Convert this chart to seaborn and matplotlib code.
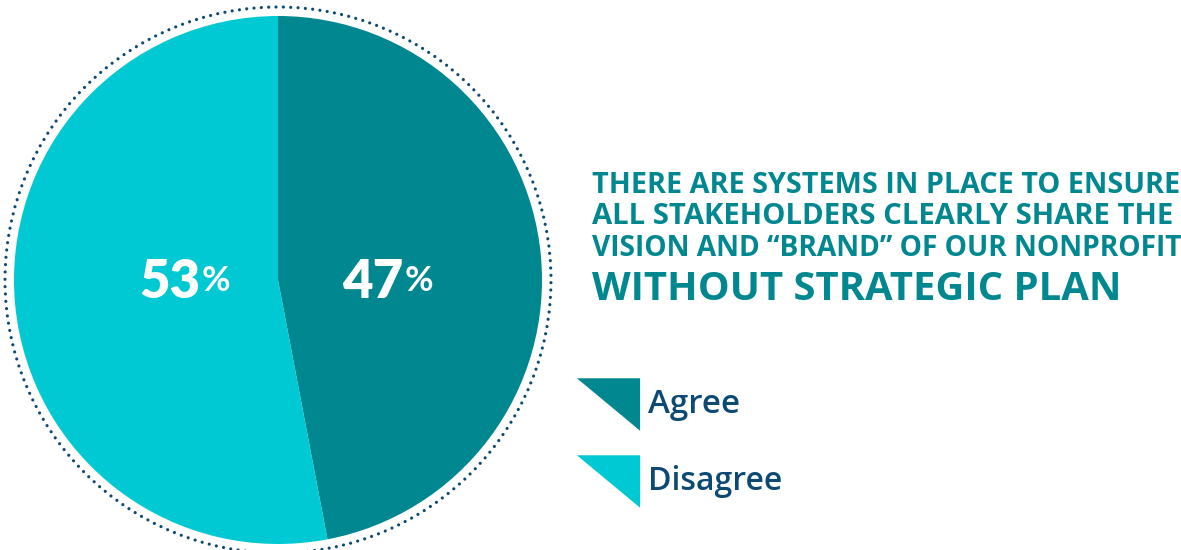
import matplotlib
matplotlib.use("Agg")
import matplotlib.pyplot as plt
from matplotlib.patches import Circle
import seaborn as sns

# ---- data ----
categories = ["Agree", "Disagree"]
values = [47, 53]
colors = ["#00878f", "#00c9d3"]
title_lines = ["THERE ARE SYSTEMS IN PLACE TO ENSURE",
               "ALL STAKEHOLDERS CLEARLY SHARE THE",
               "VISION AND \u201cBRAND\u201d OF OUR NONPROFIT"]
subtitle = "WITHOUT STRATEGIC PLAN"

sns.set_theme(style="white")
plt.rcParams['font.family'] = ['Open Sans', 'DejaVu Sans']

W, H = 1181, 550
fig = plt.figure(figsize=(W / 100, H / 100), dpi=100)
ax = fig.add_axes([0, 0, 1, 1])
ax.set_xlim(0, W)
ax.set_ylim(0, H)
renderer = fig.canvas.get_renderer()


def fit_text(x, y, s, width, size, **kw):
    t = ax.text(x, y, s, fontsize=size, **kw)
    w = t.get_window_extent(renderer=renderer).width
    t.set_fontsize(size * width / w)
    return t


cx, cy, r = 278, H - 280, 264
wedges, _ = ax.pie(values, colors=colors, startangle=90, counterclock=False,
                   center=(cx, cy), radius=r, frame=True,
                   wedgeprops=dict(linewidth=0))

ring = Circle((cx, cy), 273, fill=False, edgecolor="#0d4a73", linewidth=2.3,
              linestyle=(0, (0.01, 2.29)))
ring.set_capstyle("round")
ax.add_patch(ring)

# percent labels
label_pos = {"Agree": (403, H - 298), "Disagree": (200, H - 298)}
for cat, v in zip(categories, values):
    x, y = label_pos[cat]
    ax.text(x, y, f"{v}", color="white", fontsize=38, fontweight="heavy",
            ha="right", va="baseline", family=["Lato"])
    ax.text(x + 2, y + 7, "%", color="white", fontsize=25, fontweight="bold",
            ha="left", va="baseline", family=["Lato"])

# title
title_color = "#00878f"
for i, line in enumerate(title_lines):
    fit_text(592, H - (193 + 31.5 * i), line, 588 if i == 0 else
             (581 if i == 1 else 590), 20, color=title_color,
             fontweight="bold", ha="left", va="baseline")
fit_text(592, H - 300, subtitle, 530, 26, color=title_color,
         fontweight="bold", ha="left", va="baseline")

# legend (triangles)
tri = [(-1, 0.83), (1, 0.83), (1, -0.83), (-1, 0.83)]
leg_y = [404, 481]
leg_w = [92, 134]
for cat, col, y, lw in zip(categories, colors, leg_y, leg_w):
    ax.plot([607.5], [H - y], marker=tri, markersize=45.5, color=col,
            markeredgewidth=0, linestyle="none")
    fit_text(648, H - (y + 9), cat, lw, 21, color="#0d4a73",
             fontweight="semibold", ha="left", va="baseline")

ax.set_xlim(0, W)
ax.set_ylim(0, H)
ax.set_aspect("equal")
ax.axis("off")
fig.savefig("out.png", dpi=100, facecolor="white")
